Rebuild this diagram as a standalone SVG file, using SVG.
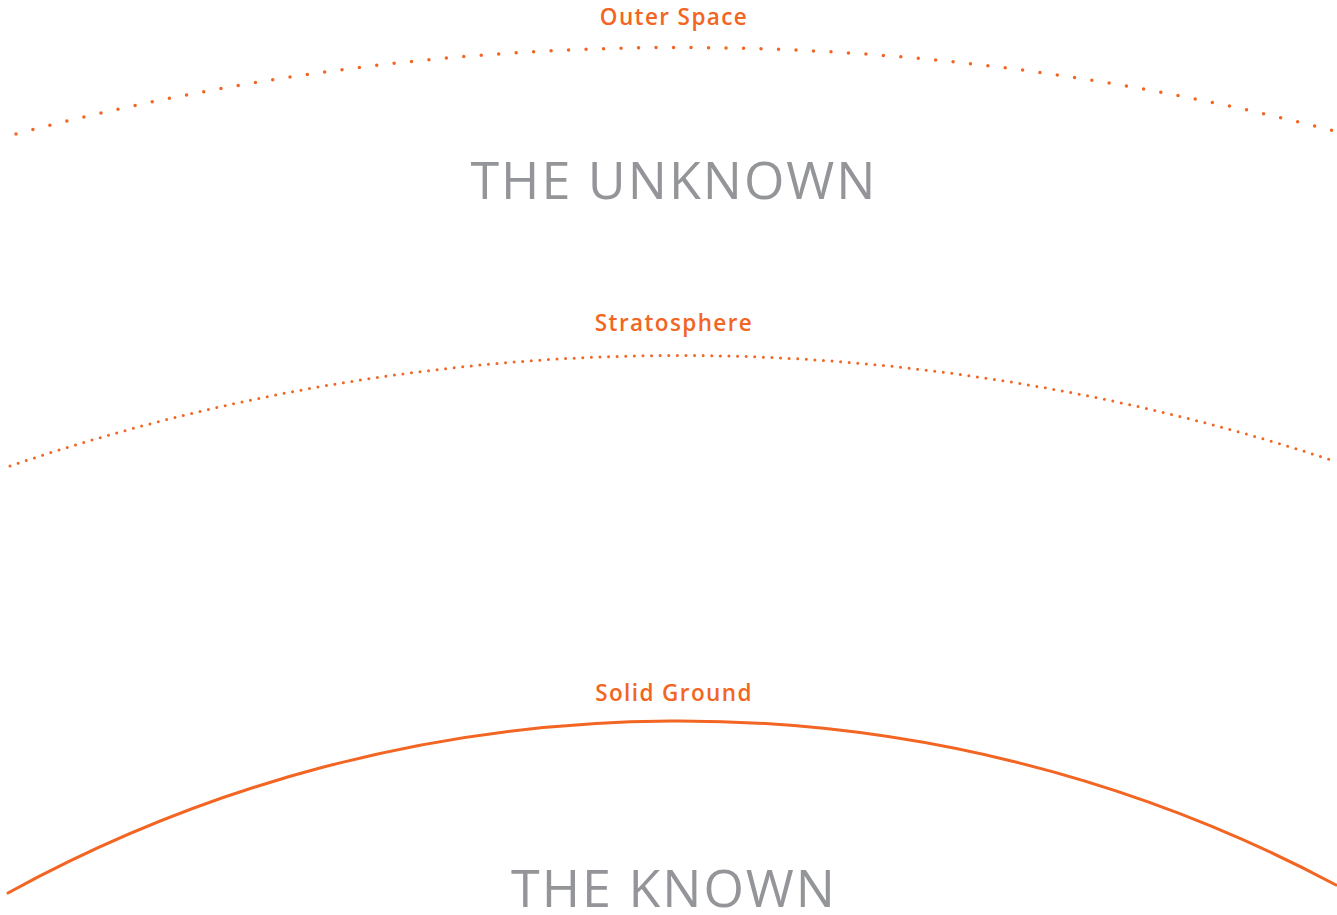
<svg xmlns="http://www.w3.org/2000/svg" width="1337" height="915" viewBox="0 0 1337 915">
<style>
.lbl{font-family:"Open Sans","Liberation Sans",sans-serif;font-size:22.5px;font-weight:600;fill:#f26522;text-anchor:middle;letter-spacing:1.4px}
.big{font-family:"Open Sans","Liberation Sans",sans-serif;font-size:52px;fill:#939598;text-anchor:middle;letter-spacing:2px}
.arc{fill:none;stroke:#f26522;stroke-linecap:round}
</style>
<rect width="1337" height="915" fill="#fff"/>
<g id="connectors">
<path id="outer-arc" class="arc" d="M16,134 A2597,2597 0 0 1 1334,131" stroke-width="3.5" stroke-dasharray="0 17.5"/>
<path id="strato-arc" class="arc" d="M10,466 A2083,2083 0 0 1 1334,461" stroke-width="3" stroke-dasharray="0 8.6"/>
<path id="ground-arc" class="arc" d="M8,893 A1396,1396 0 0 1 1336,885" stroke-width="3" stroke-linecap="butt"/>
</g>
<g id="outer-space"><text class="lbl" x="674" y="25">Outer Space</text></g>
<g id="unknown"><text class="big" x="674" y="199">THE UNKNOWN</text></g>
<g id="stratosphere"><text class="lbl" x="674" y="331">Stratosphere</text></g>
<g id="solid-ground"><text class="lbl" x="674" y="701">Solid Ground</text></g>
<g id="known"><text class="big" x="674" y="907">THE KNOWN</text></g>
</svg>
